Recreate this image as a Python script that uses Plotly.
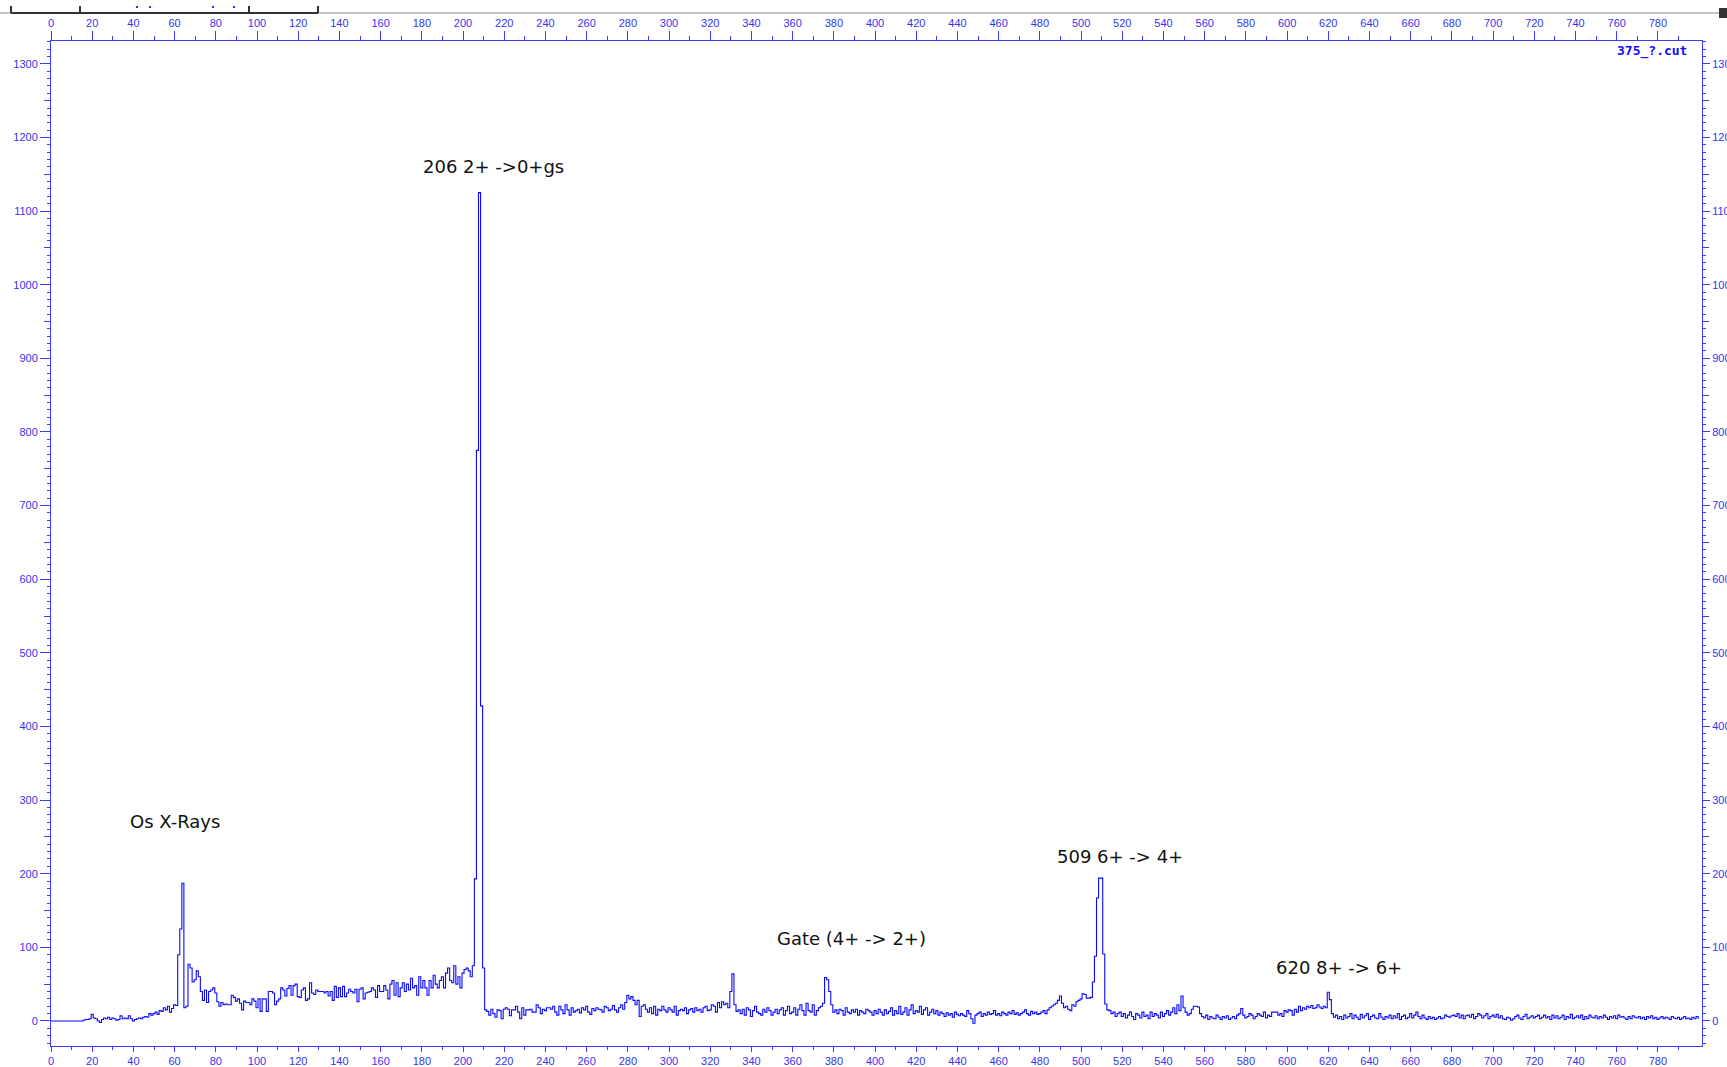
import plotly.graph_objects as go

# ---------------- data (counts per channel) ----------------
counts_000 = [0, 0, 0, 0, 0, 0, 0, 0, 0, 0, 0, 0, 0, 0, 0, 0, 1, 2, 2, 3]
counts_020 = [9, 4, 3, 0, -2, 2, 4, 3, 5, 2, 4, 3, 1, 2, 7, 3, 4, 3, 7, 3]
counts_040 = [0, 2, 3, 4, 3, 5, 6, 5, 10, 8, 10, 12, 9, 14, 13, 18, 15, 20, 12, 17]
counts_060 = [22, 21, 90, 125, 187, 18, 20, 77, 72, 53, 56, 68, 60, 40, 28, 42, 25, 40, 42, 45]
counts_080 = [38, 26, 20, 25, 22, 23, 22, 22, 35, 32, 27, 30, 24, 15, 27, 25, 25, 22, 30, 27]
counts_100 = [18, 30, 13, 30, 30, 13, 40, 40, 38, 22, 27, 30, 45, 42, 34, 44, 48, 35, 48, 50]
counts_120 = [33, 32, 42, 45, 28, 30, 52, 38, 36, 42, 40, 40, 40, 38, 40, 34, 40, 28, 47, 32]
counts_140 = [45, 33, 47, 33, 38, 43, 40, 38, 43, 26, 43, 45, 30, 38, 39, 40, 45, 42, 32, 48]
counts_160 = [40, 40, 48, 42, 30, 50, 55, 35, 52, 33, 45, 52, 40, 50, 42, 58, 45, 48, 35, 60]
counts_180 = [45, 55, 45, 35, 55, 45, 62, 50, 45, 55, 60, 45, 65, 72, 55, 52, 75, 50, 60, 45]
counts_200 = [65, 70, 72, 68, 60, 75, 193, 775, 1125, 428, 72, 15, 13, 8, 16, 10, 5, 15, 14, 3]
counts_220 = [16, 18, 16, 7, 15, 15, 20, 12, 3, 18, 8, 15, 15, 16, 12, 12, 22, 18, 10, 16]
counts_240 = [14, 18, 18, 16, 20, 12, 8, 20, 15, 10, 22, 15, 8, 18, 12, 14, 16, 11, 18, 15]
counts_260 = [20, 12, 9, 17, 14, 18, 16, 15, 12, 20, 18, 14, 16, 21, 15, 12, 18, 22, 16, 25]
counts_280 = [35, 30, 33, 28, 22, 28, 6, 20, 22, 16, 12, 18, 10, 20, 8, 16, 14, 20, 15, 12]
counts_300 = [18, 15, 12, 20, 8, 14, 16, 14, 18, 10, 15, 17, 12, 18, 14, 16, 12, 18, 20, 14]
counts_320 = [15, 22, 20, 12, 25, 18, 26, 22, 24, 18, 40, 64, 22, 13, 15, 10, 16, 8, 18, 15]
counts_340 = [6, 14, 20, 12, 10, 8, 16, 12, 18, 14, 8, 12, 16, 10, 15, 18, 8, 14, 20, 10]
counts_360 = [12, 18, 8, 16, 22, 14, 8, 24, 14, 12, 22, 8, 14, 18, 20, 24, 59, 56, 40, 22]
counts_380 = [12, 15, 10, 16, 14, 8, 18, 12, 10, 15, 12, 16, 8, 14, 12, 10, 16, 14, 12, 8]
counts_400 = [14, 10, 16, 12, 8, 15, 10, 13, 18, 8, 14, 10, 20, 9, 12, 18, 8, 15, 22, 10]
counts_420 = [14, 12, 20, 9, 15, 18, 8, 12, 16, 10, 14, 8, 12, 10, 6, 11, 8, 10, 5, 12]
counts_440 = [9, 7, 10, 8, 6, 14, 10, 3, -3, 8, 10, 12, 6, 10, 8, 12, 9, 10, 14, 8]
counts_460 = [10, 7, 12, 10, 8, 12, 10, 14, 9, 11, 8, 10, 12, 15, 10, 8, 13, 10, 12, 9]
counts_480 = [10, 12, 14, 10, 15, 18, 20, 22, 24, 28, 34, 24, 18, 20, 16, 14, 22, 20, 26, 28]
counts_500 = [30, 37, 36, 31, 31, 32, 53, 88, 167, 194, 194, 91, 23, 15, 14, 10, 12, 6, 10, 12]
counts_520 = [6, 10, 4, 8, 12, 6, 2, 10, 8, 4, 12, 6, 8, 3, 12, 6, 10, 8, 4, 12]
counts_540 = [6, 10, 14, 8, 12, 18, 10, 22, 14, 34, 18, 12, 8, 10, 16, 20, 20, 19, 10, 6]
counts_560 = [4, 8, 2, 6, 4, 3, 8, 5, 2, 6, 4, 7, 2, 4, 6, 3, 8, 10, 17, 8]
counts_580 = [4, 6, 10, 8, 3, 6, 10, 8, 6, 12, 4, 8, 6, 12, 12, 12, 8, 10, 6, 14]
counts_600 = [12, 15, 14, 8, 16, 12, 20, 14, 18, 16, 20, 18, 21, 17, 18, 22, 19, 17, 20, 18]
counts_620 = [39, 29, 10, 5, 8, 3, 6, 2, 8, 4, 6, 10, 3, 8, 5, 2, 9, 4, 7, 10]
counts_640 = [2, 6, 8, 4, 3, 10, 5, 2, 6, 4, 8, 3, 7, 4, 10, 2, 6, 8, 3, 5]
counts_660 = [10, 4, 8, 12, 6, 3, 8, 4, 2, 6, 3, 5, 2, 4, 6, 3, 4, 8, 6, 5]
counts_680 = [7, 8, 6, 10, 4, 8, 3, 7, 8, 5, 9, 3, 6, 10, 8, 4, 7, 10, 3, 6]
counts_700 = [8, 5, 9, 4, 7, 3, 2, 5, 4, 1, 3, 6, 8, 4, 2, 6, 9, 3, 5, 7]
counts_720 = [4, 6, 8, 3, 5, 8, 4, 6, 2, 8, 4, 7, 3, 5, 8, 2, 6, 4, 9, 3]
counts_740 = [5, 7, 4, 8, 2, 6, 3, 8, 5, 4, 7, 3, 6, 4, 8, 5, 2, 6, 4, 7]
counts_760 = [3, 8, 5, 6, 4, 2, 6, 3, 7, 5, 4, 6, 3, 5, 2, 6, 4, 7, 3, 5]
counts_780 = [2, 4, 6, 3, 5, 4, 2, 6, 4, 3, 5, 2, 4, 6, 3, 4, 2, 5, 3, 6]
counts_800 = [4]

counts = (counts_000 + counts_020 + counts_040 + counts_060 + counts_080 + counts_100
          + counts_120 + counts_140 + counts_160 + counts_180 + counts_200 + counts_220
          + counts_240 + counts_260 + counts_280 + counts_300 + counts_320 + counts_340
          + counts_360 + counts_380 + counts_400 + counts_420 + counts_440 + counts_460
          + counts_480 + counts_500 + counts_520 + counts_540 + counts_560 + counts_580
          + counts_600 + counts_620 + counts_640 + counts_660 + counts_680 + counts_700
          + counts_720 + counts_740 + counts_760 + counts_780 + counts_800)
channels = list(range(len(counts)))

# axis ticks shown by the reference (labelled every 20 up to 780, minor every 10 up to 790)
x_major_ticks = list(range(0, 781, 20))
x_minor_ticks = list(range(10, 791, 20))

# peak labels: (text, channel, counts)
label_texts = ["Os X-Rays", "206 2+ ->0+gs", "Gate (4+ -> 2+)", "509 6+ -> 4+", "620 8+ -> 6+"]
label_x = [60, 214.7, 388.6, 519, 625]
label_y = [271, 1161, 112, 224, 72]
spectrum_name = "375_?.cut"

x_range = [0, 801.4]
y_range = [-34, 1331]

# ---------------- style ----------------
W, H = 1727, 1067
ML, MR, MT, MB = 51, 25, 41, 21
AX = "#3c3cff"
TXT = "#3434f0"
TICKFONT = dict(family="Liberation Sans, Arial, sans-serif", size=11, color=TXT)


def px_x(x):
    return (x - ML) / (W - ML - MR)


def px_y(y):
    return (H - MB - y) / (H - MT - MB)


fig = go.Figure()
fig.add_trace(go.Scatter(x=channels, y=counts, mode="lines",
                         line=dict(color="#0a0aff", width=1.1, shape="hvh"),
                         showlegend=False, hoverinfo="skip"))
# empty traces so that the mirrored axes are drawn
for xa, ya in [("x2", "y"), ("x", "y2"), ("x", "y3"), ("x", "y4")]:
    fig.add_trace(go.Scatter(x=[None], y=[None], xaxis=xa, yaxis=ya,
                             showlegend=False, hoverinfo="skip"))

common_x = dict(range=x_range, tickmode="array", tickvals=x_major_ticks,
                showgrid=False, zeroline=False,
                showline=True, linecolor=AX, linewidth=1, tickcolor=AX, tickwidth=1,
                ticks="outside", tickfont=TICKFONT, automargin=False, fixedrange=True)
common_y = dict(range=y_range, dtick=100, tick0=0, showgrid=False, zeroline=False,
                showline=True, linecolor=AX, linewidth=1, tickcolor=AX, tickwidth=1,
                ticks="outside", tickfont=TICKFONT, automargin=False, fixedrange=True)

fig.update_layout(
    width=W, height=H,
    margin=dict(l=ML, r=MR, t=MT, b=MB, pad=0),
    paper_bgcolor="white", plot_bgcolor="white",
    showlegend=False,
    xaxis=dict(**common_x, side="bottom", anchor="y", ticklen=5,
               minor=dict(tickmode="array", tickvals=x_minor_ticks, ticklen=3,
                          tickcolor=AX, ticks="outside")),
    xaxis2=dict(**common_x, side="top", anchor="y", overlaying="x", ticklen=9,
                minor=dict(tickmode="array", tickvals=x_minor_ticks, ticklen=4,
                           tickcolor=AX, ticks="outside")),
    yaxis=dict(**common_y, side="left", anchor="x", ticklen=10,
               minor=dict(dtick=10, ticklen=3, tickcolor=AX, ticks="outside")),
    yaxis2=dict(**common_y, side="right", anchor="x", overlaying="y", ticklen=7,
                minor=dict(dtick=10, ticklen=3, tickcolor=AX, ticks="outside")),
    yaxis3=dict(range=y_range, dtick=50, tick0=0, side="left", anchor="x", overlaying="y",
                showgrid=False, zeroline=False, showline=False, ticks="outside", ticklen=6,
                tickcolor=AX, showticklabels=False, fixedrange=True),
    yaxis4=dict(range=y_range, dtick=50, tick0=0, side="right", anchor="x", overlaying="y",
                showgrid=False, zeroline=False, showline=False, ticks="outside", ticklen=6,
                tickcolor=AX, showticklabels=False, fixedrange=True),
)

for t, xv, yv in zip(label_texts, label_x, label_y):
    fig.add_annotation(x=xv, y=yv, xref="x", yref="y", text=t, showarrow=False,
                       xanchor="center", yanchor="middle",
                       font=dict(family="DejaVu Sans, sans-serif", size=18, color="#111111"))

fig.add_annotation(x=px_x(1689), y=px_y(51), xref="paper", yref="paper",
                   text="<b>" + spectrum_name + "</b>", showarrow=False,
                   xanchor="right", yanchor="middle",
                   font=dict(family="DejaVu Sans Mono, monospace", size=13, color="#1010ff"))

# window decoration above the top axis (scroll bar)
deco = []
deco.append(dict(type="line", x0=px_x(0), x1=px_x(1719), y0=px_y(13), y1=px_y(13),
                 line=dict(color="#8a8a8a", width=1)))
deco.append(dict(type="line", x0=px_x(11), x1=px_x(318), y0=px_y(13), y1=px_y(13),
                 line=dict(color="#333333", width=2)))
for tx in [11, 80, 249, 318]:
    deco.append(dict(type="line", x0=px_x(tx), x1=px_x(tx), y0=px_y(6), y1=px_y(13),
                     line=dict(color="#333333", width=2)))
for tx in [136, 149, 212, 233]:
    deco.append(dict(type="rect", x0=px_x(tx), x1=px_x(tx + 2), y0=px_y(6), y1=px_y(8),
                     line=dict(width=0), fillcolor="#3030ff"))
deco.append(dict(type="rect", x0=px_x(1719), x1=px_x(1727), y0=px_y(8), y1=px_y(18),
                 line=dict(width=0), fillcolor="#333333"))
for s in deco:
    fig.add_shape(xref="paper", yref="paper", layer="above", **s)

fig.write_html("out.html")
